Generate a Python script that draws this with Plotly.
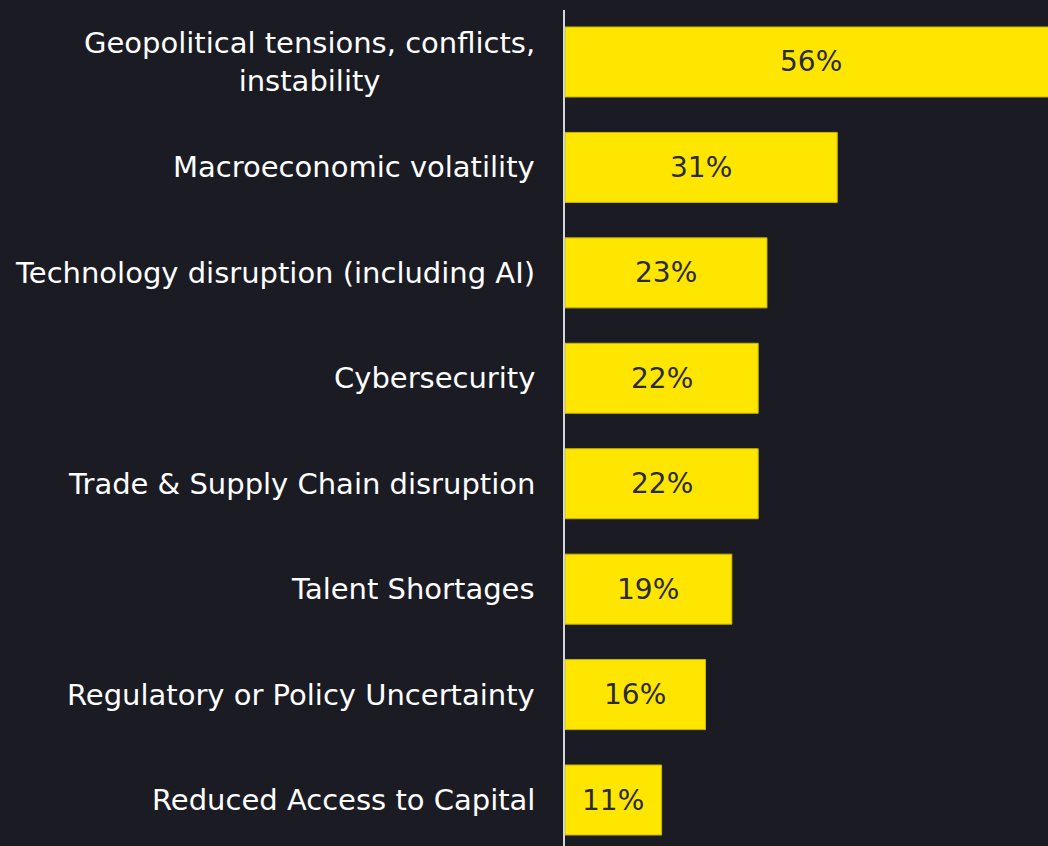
import plotly.graph_objects as go

categories = [
    "Geopolitical tensions, conflicts,<br>instability",
    "Macroeconomic volatility",
    "Technology disruption (including AI)",
    "Cybersecurity",
    "Trade & Supply Chain disruption",
    "Talent Shortages",
    "Regulatory or Policy Uncertainty",
    "Reduced Access to Capital",
]
values = [56, 31, 23, 22, 22, 19, 16, 11]
value_labels = ["56%", "31%", "23%", "22%", "22%", "19%", "16%", "11%"]

BG = "#1b1b24"
YELLOW = "#FFE600"
FONT = "DejaVu Sans"

fig = go.Figure()
fig.add_trace(go.Bar(
    x=values,
    y=categories,
    orientation="h",
    marker=dict(color=YELLOW, line=dict(color="#c9b500", width=1)),
    hoverinfo="skip",
))

annotations = []
for cat, v, lab in zip(categories, values, value_labels):
    annotations.append(dict(
        x=v / 2, y=cat, xref="x", yref="y", text=lab, showarrow=False,
        font=dict(family=FONT, size=28, color="#2a2a34"),
        xanchor="center", yanchor="middle",
    ))
    annotations.append(dict(
        x=0, y=cat, xref="paper", yref="y", text=cat, showarrow=False,
        font=dict(family=FONT, size=29, color="#ffffff"),
        xanchor="right", yanchor="middle", xshift=-28, align="center",
    ))

fig.update_layout(
    width=1048, height=846,
    margin=dict(l=565, r=0, t=10, b=0),
    paper_bgcolor=BG, plot_bgcolor=BG,
    bargap=0.336,
    showlegend=False,
    annotations=annotations,
    xaxis=dict(range=[0, 55], visible=False, fixedrange=True),
    yaxis=dict(
        type="category",
        range=[7.436, -0.493],
        showticklabels=False,
        showgrid=False, zeroline=False,
        showline=True, linecolor="#d4d4dc", linewidth=2,
        fixedrange=True,
    ),
)

fig.write_html(
    "out.html",
    config={"displayModeBar": False},
    post_script="document.body.style.margin='0';document.body.style.background='%s';" % BG,
)
